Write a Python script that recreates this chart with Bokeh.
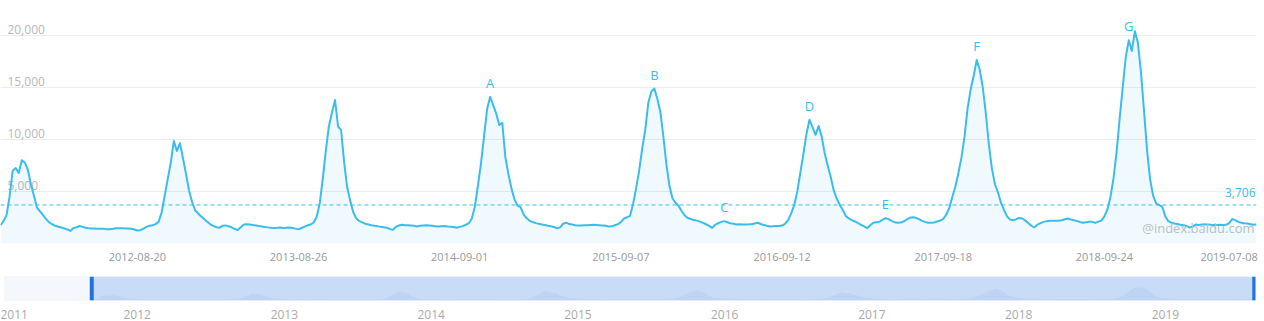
import pandas as pd
from bokeh.plotting import figure
from bokeh.layouts import column
from bokeh.models import (Range1d, FixedTicker, DatetimeTickFormatter, Span, Grid,
                          BoxAnnotation, ColumnDataSource)
from bokeh.embed import file_html
from bokeh.resources import INLINE
from bokeh.core.properties import value

# ---------------- data (weekly search index) ----------------
start_date = "2011-10-10"
weekly_values = [
    1760, 2150, 2750, 4550, 7000, 7250, 6780, 8000, 7780, 7080,
    5700, 4580, 3450, 3080, 2720, 2350, 2030, 1850, 1700, 1610,
    1530, 1450, 1350, 1210, 1480, 1560, 1680, 1600, 1510, 1470,
    1440, 1440, 1410, 1410, 1410, 1380, 1380, 1410, 1470, 1470,
    1470, 1440, 1440, 1410, 1350, 1250, 1280, 1440, 1600, 1700,
    1760, 1860, 2080, 3000, 4600, 6200, 7800, 9850, 8900, 9650,
    8200, 6700, 5100, 4000, 3200, 2890, 2600, 2350, 2080, 1850,
    1690, 1560, 1520, 1700, 1740, 1660, 1560, 1400, 1300, 1560,
    1820, 1850, 1830, 1780, 1740, 1680, 1640, 1590, 1550, 1520,
    1500, 1510, 1530, 1500, 1520, 1530, 1490, 1430, 1360, 1490,
    1620, 1750, 1830, 2020, 2600, 3900, 6300, 9000, 11300, 12600,
    13800, 11250, 10900, 7800, 5400, 4100, 3000, 2400, 2150, 2030,
    1890, 1830, 1760, 1700, 1670, 1600, 1570, 1510, 1410, 1310,
    1600, 1730, 1800, 1760, 1760, 1730, 1700, 1640, 1700, 1730,
    1760, 1730, 1700, 1670, 1640, 1670, 1680, 1640, 1620, 1580,
    1520, 1600, 1670, 1800, 1950, 2400, 3600, 5600, 7700, 10300,
    12900, 14100, 13300, 12500, 11400, 11600, 8300, 6700, 5300, 4250,
    3650, 3500, 2800, 2420, 2180, 2070, 1960, 1890, 1830, 1770,
    1700, 1660, 1590, 1450, 1550, 1900, 2000, 1870, 1820, 1760,
    1740, 1740, 1760, 1760, 1790, 1800, 1780, 1760, 1730, 1700,
    1640, 1650, 1750, 1870, 2050, 2400, 2520, 2650, 3800, 5300,
    7000, 9100, 10900, 13500, 14600, 14900, 13900, 12600, 10200, 7500,
    5500, 4300, 3900, 3600, 3100, 2700, 2450, 2350, 2250, 2200,
    2100, 1980, 1850, 1700, 1500, 1800, 1950, 2080, 2150, 2050,
    1950, 1900, 1820, 1840, 1820, 1830, 1840, 1860, 1930, 1990,
    1880, 1770, 1700, 1640, 1660, 1680, 1690, 1720, 1900, 2250,
    2900, 3700, 5000, 6800, 8600, 10500, 11900, 11200, 10450, 11300,
    10300, 8700, 7500, 6400, 5100, 4300, 3700, 3200, 2630, 2400,
    2240, 2120, 1960, 1800, 1650, 1480, 1750, 1990, 2050, 2080,
    2280, 2440, 2340, 2180, 2050, 1990, 2020, 2120, 2310, 2470,
    2530, 2470, 2340, 2180, 2080, 1990, 1990, 2020, 2120, 2210,
    2370, 2790, 3430, 4490, 5500, 6800, 8300, 10300, 13000, 14800,
    16100, 17650, 16700, 15000, 12500, 9500, 7200, 5700, 4900, 3900,
    3200, 2600, 2300, 2230, 2350, 2450, 2400, 2200, 1950, 1700,
    1550, 1820, 1960, 2080, 2150, 2180, 2180, 2180, 2190, 2240,
    2330, 2400, 2300, 2240, 2150, 2060, 2000, 2050, 2100, 2080,
    1980, 2100, 2200, 2600, 3300, 4500, 6300, 8800, 12000, 15000,
    17900, 19550, 18500, 20400, 19300, 16500, 12800, 9000, 6200, 4600,
    3850, 3700, 3550, 2600, 2150, 2000, 1930, 1870, 1810, 1760,
    1680, 1540, 1620, 1830, 1780, 1820, 1850, 1830, 1800, 1780,
    1790, 1800, 1770, 1800, 1950, 2350, 2250, 2080, 2000, 1950,
    1920, 1860, 1800, 1840,
]
dates = pd.date_range(start_date, periods=len(weekly_values), freq="7D")

x_tick_dates = ["2012-08-20", "2013-08-26", "2014-09-01", "2015-09-07",
                "2016-09-12", "2017-09-18", "2018-09-24", "2019-07-08"]
y_tick_values = [5000, 10000, 15000, 20000]
y_tick_labels = [f"{v:,}" for v in y_tick_values]
grid_values = [0, 5000, 10000, 15000, 20000]
average_value = 3706
event_labels = ["A", "B", "C", "D", "E", "F", "G"]
event_dates = ["2014-11-10", "2015-11-23", "2016-05-02", "2016-11-14",
               "2017-05-08", "2017-12-04", "2018-11-19"]
# navigator year labels (the first one sits at the left edge of the navigator)
nav_year_dates = ["2011-03-31", "2012-01-31", "2013-01-31", "2014-01-31", "2015-01-31",
                  "2016-01-31", "2017-01-31", "2018-01-31", "2019-01-31"]
nav_range_start = "2011-03-07"
nav_range_end = "2019-09-12"
watermark = "@index.baidu.com"

# ---------------- style ----------------
LINE = "#3bbdec"
FONT = "Open Sans"


def ms(d):
    return pd.Timestamp(d).value // 10**6


x_ms = [ms(d) for d in dates]
src = ColumnDataSource(data=dict(x=x_ms, y=weekly_values))

# ---------------- main chart ----------------
p = figure(width=1264, height=270, x_axis_type="datetime", y_axis_location=None,
           output_backend="svg", toolbar_location=None,
           x_range=Range1d(x_ms[0], x_ms[-1]), y_range=Range1d(0, 23365),
           min_border=0, min_border_left=0, min_border_right=8, min_border_top=0,
           min_border_bottom=27)
p.frame_align = False
p.outline_line_color = None
p.background_fill_color = "white"
p.border_fill_color = "white"
p.xgrid.visible = False
p.ygrid.visible = False
p.add_layout(Grid(dimension=1, ticker=FixedTicker(ticks=grid_values),
                  grid_line_color="#ececec", grid_line_width=1))

fmt = "%Y-%m-%d"
p.xaxis.ticker = FixedTicker(ticks=[ms(d) for d in x_tick_dates])
p.xaxis.formatter = DatetimeTickFormatter(days=fmt, months=fmt, years=fmt, hours=fmt,
                                          hourmin=fmt, minutes=fmt, minsec=fmt,
                                          seconds=fmt, milliseconds=fmt, microseconds=fmt)
p.xaxis.axis_line_color = None
p.xaxis.major_tick_line_color = None
p.xaxis.minor_tick_line_color = None
p.xaxis.major_label_text_color = "#999999"
p.xaxis.major_label_text_font = FONT
p.xaxis.major_label_text_font_size = "11px"
p.xaxis.major_label_standoff = 3

# y labels inside the plot, above the grid lines
p.text(x=[x_ms[0]] * len(y_tick_values), y=y_tick_values, text=y_tick_labels,
       x_offset=7, y_offset=-1, text_align="left", text_baseline="bottom",
       text_color="#b8b8b8", text_font=value(FONT), text_font_size="12px")

p.varea(x="x", y1=0, y2="y", source=src, fill_color=LINE, fill_alpha=0.08)
p.add_layout(Span(location=average_value, dimension="width", line_color=LINE,
                  line_dash="4 3", line_width=1))
p.line(x="x", y="y", source=src, line_color=LINE, line_width=2, line_join="round")

# average value label
p.text(x=[x_ms[-1]], y=[average_value], text=[f"{average_value:,}"],
       x_offset=-1, y_offset=-8, text_align="right", text_baseline="bottom",
       text_color=LINE, text_font=value(FONT), text_font_size="12px")

# event letters
ev_idx = [(pd.Timestamp(d) - dates[0]).days // 7 for d in event_dates]
p.text(x=[x_ms[i] for i in ev_idx], y=[weekly_values[i] for i in ev_idx], text=event_labels,
       y_offset=-14, text_align="center", text_baseline="alphabetic",
       text_color=LINE, text_font=value(FONT), text_font_size="13px")

# watermark
p.text(x=[x_ms[-1]], y=[0], text=[watermark], x_offset=-2, y_offset=-16,
       text_align="right", text_baseline="middle",
       text_color="#bdbdbd", text_font=value(FONT), text_font_size="13px")

# ---------------- navigator ----------------
nav = figure(width=1264, height=51, x_axis_type="datetime", y_axis_location=None,
             output_backend="svg", toolbar_location=None,
             x_range=Range1d(ms(nav_range_start), ms(nav_range_end)), y_range=Range1d(0, 36000),
             min_border=0, min_border_left=4, min_border_right=9, min_border_top=6,
             min_border_bottom=15)
nav.frame_align = False
nav.outline_line_color = None
nav.xgrid.visible = False
nav.ygrid.visible = False
nav.add_layout(BoxAnnotation(fill_color="#f4f7fb", fill_alpha=1, line_color="#d6d6d6",
                             line_width=1, level="underlay"))
nav.add_layout(BoxAnnotation(left=x_ms[0], right=x_ms[-1], fill_color="#c8dcf8", fill_alpha=1,
                             line_color=None, level="underlay"))
nav.varea(x="x", y1=0, y2="y", source=src, fill_color="#9fbbe6", fill_alpha=0.25)
for xv in (x_ms[0], x_ms[-1]):
    nav.add_layout(Span(location=xv, dimension="height", line_color="#2271e6", line_width=4))

nav.xaxis.ticker = FixedTicker(ticks=[ms(d) for d in nav_year_dates])
yfmt = "%Y"
nav.xaxis.formatter = DatetimeTickFormatter(days=yfmt, months=yfmt, years=yfmt)
nav.xaxis.axis_line_color = None
nav.xaxis.major_tick_line_color = None
nav.xaxis.minor_tick_line_color = None
nav.xaxis.major_label_text_color = "#aaaaaa"
nav.xaxis.major_label_text_font = FONT
nav.xaxis.major_label_text_font_size = "12px"
nav.xaxis.major_label_standoff = 3

layout = column(p, nav, spacing=0)
open("out.html", "w").write(file_html(layout, INLINE))
